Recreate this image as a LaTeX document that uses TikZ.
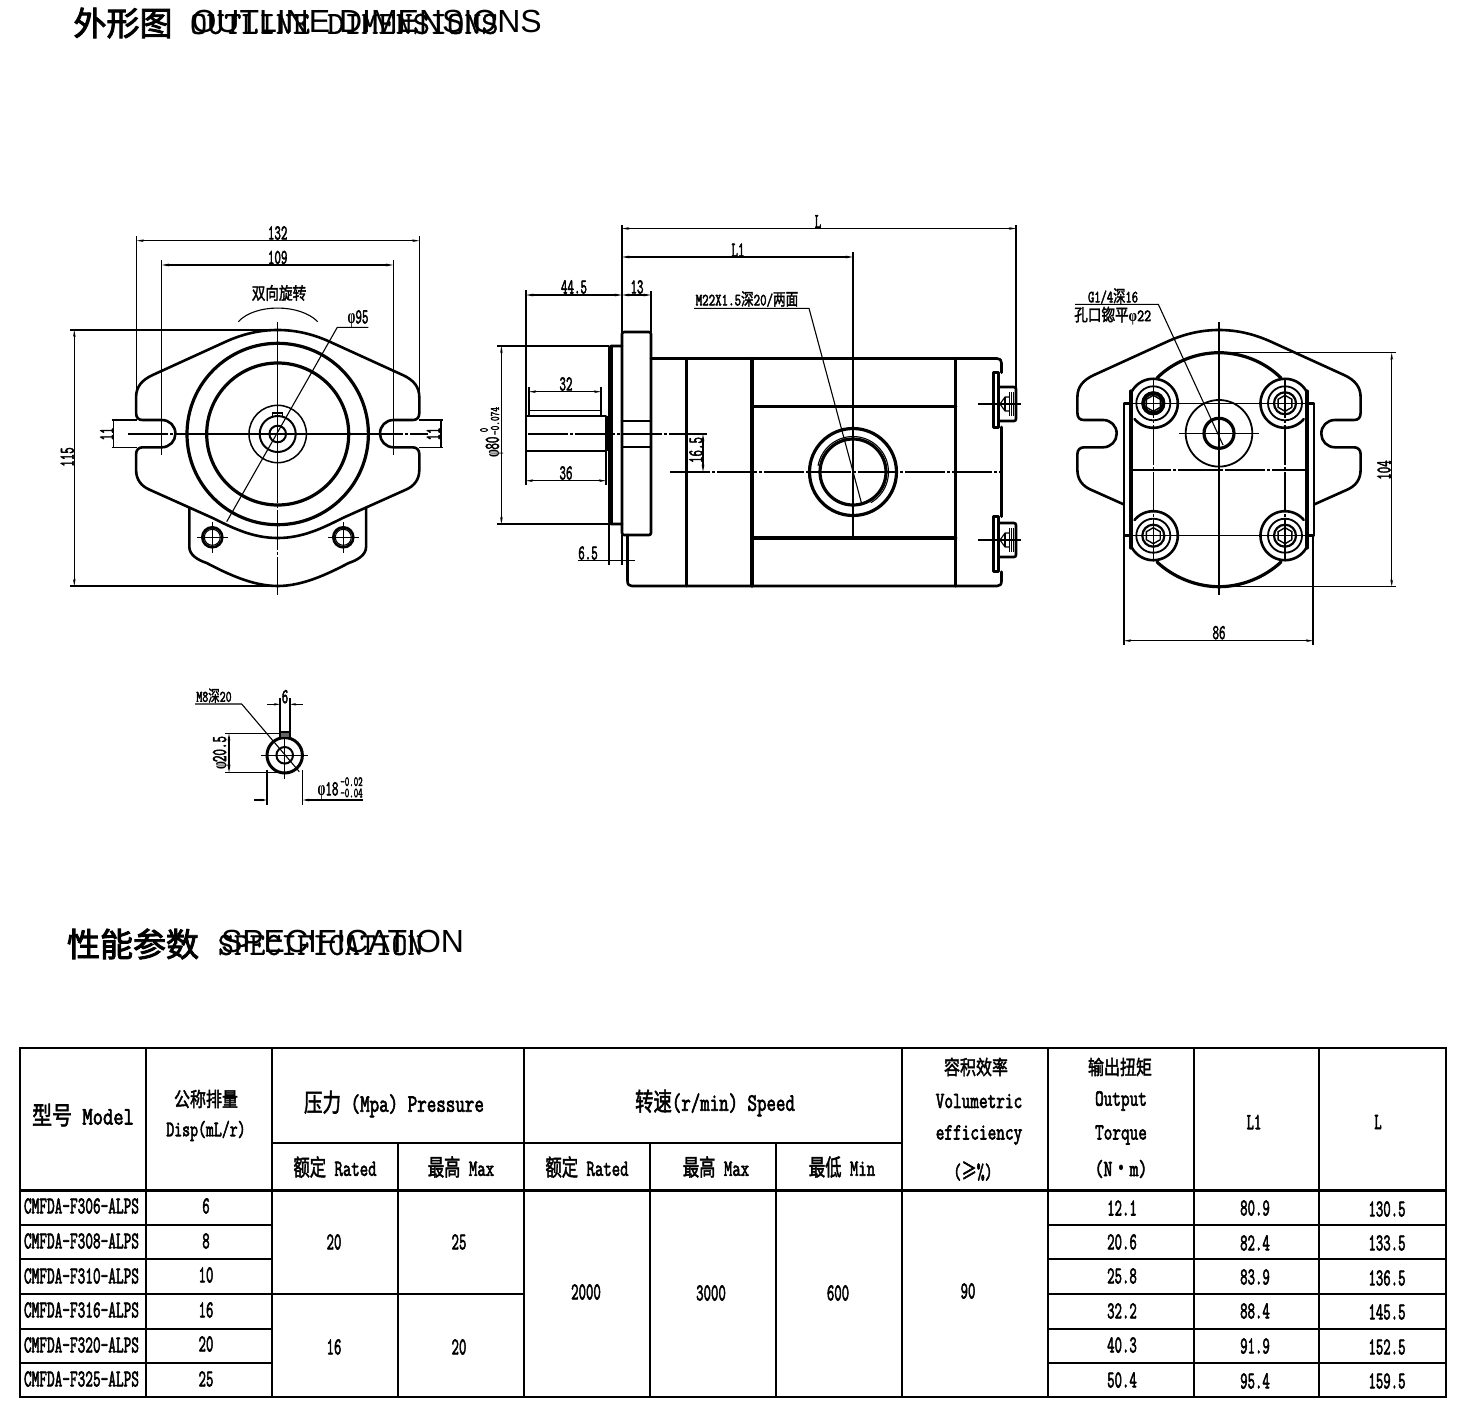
\documentclass[tikz,border=0pt]{standalone}
\usepackage{fontspec}
\usetikzlibrary{arrows.meta}
\setmainfont{Liberation Serif}
\newfontfamily\cjf[FakeBold=2.2]{Noto Sans CJK SC}
\newfontfamily\cjt[FakeBold=2.8]{Noto Sans CJK SC}
\newfontfamily\dwf[FakeBold=3]{Latin Modern Mono}
\newfontfamily\ttl[FakeBold=1]{Latin Modern Mono}
\newfontfamily\sansf{Liberation Sans}
\newfontfamily\greekf{Liberation Serif}
\newcommand\cj[1]{{\cjf #1}}
\newcommand\phisym{{\greekf\bfseries φ}}
\tikzset{
  txt/.style={inner sep=0pt,outer sep=0pt,font=\dwf,text=black},
  thick line/.style={line width=3.2pt,line join=round,line cap=round},
  outline/.style={line width=2.6pt,line join=round,line cap=round},
  thin line/.style={line width=1.1pt},
  center line/.style={line width=1.1pt,dash pattern=on 40pt off 2pt on 3pt off 2pt},
  dim/.style={line width=1.1pt,{Stealth[length=7pt,width=2.6pt]}-{Stealth[length=7pt,width=2.6pt]}},
  gridline/.style={line width=2.4pt,line cap=rect},
}
\newcommand\T[6][0]{\node[txt,rotate=#1] (#2) at (#3) {\fontsize{#4}{#4}\selectfont\scalebox{#5}[1]{#6}};}
% polar arc: x, y, r, from, to (angles measured on screen clockwise, y downward)
\newcommand\arcp[5]{plot[domain=#4:#5,samples=48,smooth] ({#1+#3*cos(\x)},{#2+#3*sin(\x)})}
\newcommand\hexp[3]{plot[domain=30:390,samples=7] ({#1+#3*cos(\x)},{#2+#3*sin(\x)})}
% flange half: from apex round the slot to the lower slant
\newcommand\flangehalf{(0,330) .. controls (18,330) and (35,334) .. (52,341.7) -- (125,375)
 .. controls (136,380) and (141.6,387) .. (141.6,397) -- (141.6,413)
 .. controls (141.6,418) and (139,420) .. (135,420) -- (116,420)
 .. controls (108,420) and (102.3,426) .. (102.3,433.7)
 .. controls (102.3,441) and (108,447.3) .. (116,447.3) -- (135,447.3)
 .. controls (139,447.3) and (141.6,450) .. (141.6,454) -- (141.6,470)
 .. controls (141.6,480) and (136,486) .. (129,489.3)}
\begin{document}
\begin{tikzpicture}[x=1pt,y=-1pt]
\useasboundingbox (0,0) rectangle (1460,1416);
\fill[white] (0,0) rectangle (1460,1416);

% ---------- titles ----------
\node[txt] (t1) at (123,23) {\fontsize{33}{33}\selectfont\cjt 外形图};
\node[txt,anchor=west] (t2) at (190,24) {\fontsize{32}{32}\selectfont\ttl\scalebox{1.04}[1]{OUTLINE DIMENSIONS}};
\node[txt,anchor=west] (t3) at (191.5,21) {\fontsize{32}{32}\selectfont\sansf OUTLINE DIMENSIONS};
\node[txt] (t4) at (133,944) {\fontsize{33}{33}\selectfont\cjt 性能参数};
\node[txt,anchor=west] (t5) at (218,945) {\fontsize{32}{32}\selectfont\ttl\scalebox{.958}[1]{SPECIFICATION}};
\node[txt,anchor=west] (t6) at (221,941) {\fontsize{32}{32}\selectfont\sansf SPECIFICATION};

% ---------- front view ----------
\begin{scope}[shift={(277.7,0)}]
 \draw[outline] \flangehalf -- (65,518) .. controls (45,528) and (25,538) .. (0,538);
 \begin{scope}[xscale=-1]
  \draw[outline] \flangehalf -- (65,518) .. controls (45,528) and (25,538) .. (0,538);
 \end{scope}
 \draw[outline] (88.4,508) -- (88.4,546.7) .. controls (88.4,555) and (80,560) .. (71,563) .. controls (50,574) and (25,586) .. (0,586)
   .. controls (-25,586) and (-50,574) .. (-71,563) .. controls (-80,560) and (-88.4,555) .. (-88.4,546.7) -- (-88.4,508);
\end{scope}
\draw[thick line] (277.7,434) circle[radius=90.7];
\draw[thick line] (277.7,434) circle[radius=71];
\draw[line width=1.5pt] (277.7,434) circle[radius=28.7];
\draw[line width=2pt] (277.7,434) circle[radius=18];
\draw[line width=2pt] (277.7,434) circle[radius=8.3];
\draw[line width=1.3pt] (272.7,416.5) rectangle (282.7,413);
\draw[outline] (212.3,537.3) circle[radius=10];
\draw[thin line] (212.3,537.3) circle[radius=8];
\draw[outline] (343.3,537.3) circle[radius=10];
\draw[thin line] (343.3,537.3) circle[radius=8];
\draw[thin line] (197,537.3) -- (228,537.3) (212.3,522) -- (212.3,553);
\draw[thin line] (328,537.3) -- (359,537.3) (343.3,522) -- (343.3,553);
\draw[center line] (277.7,321.7) -- (277.7,595);
\draw[center line] (128,434) -- (428,434);
\draw[line width=1.4pt] (188,434) -- (368,434) (277.7,365) -- (277.7,500);
% leader phi 95
\draw[thin line] (226.7,521.7) -- (337.3,327.3) -- (368.3,327.3);
\T{f95}{358,319}{21}{.6}{\phisym 95}
% arc
\draw[thin line] (238.3,321.7) .. controls (255,303.5) and (300,303.5) .. (317.7,321.7);
\T{rot}{279,293}{17}{.8}{\cj{双向旋转}}
% dims
\draw[thin line] (136.7,236) -- (136.7,397) (419.3,236) -- (419.3,397);
\draw[dim] (136.7,240.7) -- (419.3,240.7);
\T{d132}{277.7,233}{21}{.6}{132}
\draw[thin line] (161.7,260) -- (161.7,455) (393.3,260) -- (393.3,455);
\draw[dim] (161.7,265) -- (393.3,265);
\T{d109}{277.7,257.5}{21}{.6}{109}
\draw[thin line] (70,330) -- (277.7,330) (70,586) -- (277.7,586);
\draw[dim] (74.3,330) -- (74.3,586);
\T[90]{d115}{67.3,457}{21}{.6}{115}
\draw[thin line] (111.7,420) -- (136.7,420) (111.7,447.3) -- (136.7,447.3);
\draw[thin line] (113.3,420) -- (113.3,447.3);
\T[90]{d11a}{106.7,434}{21}{.6}{11}
\draw[thin line] (419.3,420) -- (443.3,420) (419.3,447.3) -- (443.3,447.3);
\draw[thin line] (441,420) -- (441,447.3);
\T[90]{d11b}{433.3,434}{21}{.6}{11}

% ---------- side view ----------
\draw[outline,rounded corners=2pt] (622,332) rectangle (651,535);
\draw[outline,rounded corners=1.5pt] (622,346) -- (609.5,346) -- (609.5,524) -- (622,524);
\draw[outline] (612,346) -- (612,524);
\draw[outline] (622,421) -- (651,421) (622,447) -- (651,447);
\draw[outline] (606,416) -- (526,416) -- (526,451) -- (606,451) -- cycle;
\draw[line width=1.8pt] (529,416) -- (529,410.5) -- (601,410.5) -- (601,416);
\draw[line width=3pt] (607,416) -- (607,451);
% body
\draw[outline] (651,358.5) -- (997,358.5) .. controls (1000,358.5) and (1001.5,360) .. (1001.5,363) -- (1001.5,372.7)
  (1001.5,427) -- (1001.5,516.7) (1001.5,571.7) -- (1001.5,581) .. controls (1001.5,584.5) and (1000,586) .. (997,586)
  -- (632,586) .. controls (629,586) and (627.5,584.5) .. (627.5,581) -- (627.5,535);
\draw[outline] (686.4,358.5) -- (686.4,586);
\draw[thick line] (752,358.5) -- (752,586);
\draw[thick line] (955.7,358.5) -- (955.7,586);
\draw[thick line] (752,406.7) -- (955.7,406.7) (752,538) -- (955.7,538);
% plugs
\foreach \cy/\pa/\pb in {404/31.3/23.3,540/23.3/31.7}{
 \draw[outline,fill=white] (993.6,\cy-\pa) -- (998.6,\cy-\pa) -- (998.6,\cy+\pb) -- (993.6,\cy+\pb) -- cycle;
 \draw[outline,rounded corners=2pt] (998.6,\cy-17) -- (1016,\cy-17) -- (1016,\cy+17) -- (998.6,\cy+17);
 \draw[thin line] (978,\cy) -- (1021,\cy);
 \draw[thin line] (1000,\cy) -- (1005,\cy-7) -- (1009,\cy-7) (1000,\cy) -- (1005,\cy+7) -- (1009,\cy+7);
 \draw[thin line] (1005,\cy-7) -- (1005,\cy+7);
 \draw[line width=.7pt] (1009,\cy-12) -- (1009,\cy+12) (1011,\cy-12) -- (1011,\cy+12) (1013,\cy-12) -- (1013,\cy+12);
}
% port
\fill[white] (853,472) circle[radius=43.5];
\draw[thick line] (853,472) circle[radius=43.5];
\draw[thick line] (853,472) circle[radius=33];
\draw[thin line] \arcp{853}{472}{35.5}{190}{420};
\draw[center line] (670,472) -- (1000,472);
\draw[center line] (528,434) -- (707,434);
\draw[thin line] (853,252) -- (853,540);
% leader M22
\draw[thin line] (694,308.3) -- (809,308.3) -- (862,505);
\T{m22}{747,299}{17}{.74}{M22X1.5\cj{深}20/\cj{两面}}
% dims
\draw[thin line] (622,225) -- (622,340) (1016,225) -- (1016,390);
\draw[dim] (622,228.5) -- (1016,228.5);
\T{dL}{818,221.5}{21}{.6}{L}
\draw[dim] (622,257) -- (853,257);
\T{dL1}{738,250}{21}{.6}{L1}
\draw[thin line] (526,290) -- (526,485) (651,291) -- (651,332);
\draw[dim] (526,295) -- (622,295);
\draw[dim] (622,295) -- (651,295);
\T{d445}{574,287}{21}{.6}{44.5}
\T{d13}{637,287}{21}{.6}{13}
\draw[thin line] (529,387) -- (529,410) (601,387) -- (601,410);
\draw[dim] (529,391.7) -- (601,391.7);
\T{d32}{566,384}{21}{.6}{32}
\draw[thin line] (606,451) -- (606,485);
\draw[dim] (526,480.7) -- (606,480.7);
\T{d36}{566,473}{21}{.6}{36}
\draw[thin line] (497,346) -- (609,346) (497,524) -- (609,524);
\draw[dim] (501.4,346) -- (501.4,524);
\T[90]{phi80}{494.5,447}{21}{.6}{\phisym 80}
\T[90]{tol0}{484,430}{12}{.7}{0}
\T[90]{tol1}{495,421}{13}{.7}{-0.074}
\draw[dim] (703,434) -- (703,472);
\T[90]{d165}{696,450}{21}{.6}{16.5}
\draw[thin line] (609,524) -- (609,565) (622,535) -- (622,565);
\draw[thin line] (578,560.7) -- (635,560.7);
\T{d65}{588,553}{21}{.6}{6.5}

% ---------- right view ----------
\begin{scope}[shift={(1219,0)}]
 \draw[outline] \flangehalf -- (95,504.5);
 \begin{scope}[xscale=-1]
  \draw[outline] \flangehalf -- (95,504.5);
 \end{scope}
\end{scope}
\draw[outline,fill=white] (1124,403.3) rectangle (1130,535.7);
\draw[outline,fill=white] (1308,403.3) rectangle (1314,535.7);
% body top and bottom arcs
\draw[thick line] (1157,378) .. controls (1173,362) and (1196,352.7) .. (1219,352.7) .. controls (1242,352.7) and (1265,362) .. (1281,378);
\draw[thick line] (1157,562) .. controls (1173,577) and (1196,586.7) .. (1219,586.7) .. controls (1242,586.7) and (1265,577) .. (1281,562);
\draw[thick line] (1131,391) -- (1131,548) (1307,391) -- (1307,548);
% bolts
\foreach \bx/\by/\a/\b/\c/\d in {1153.3/403.3/-90/140/-90/-150, 1285/403.3/270/40/270/330, 1153.3/535.7/90/-140/90/150, 1285/535.7/90/320/90/30}{
 \draw[outline] \arcp{\bx}{\by}{24.5}{\a}{\b};
 \draw[outline] \arcp{\bx}{\by}{24.5}{\c}{\d};
 \draw[line width=1.8pt] (\bx,\by) circle[radius=17];
 \draw[line width=2.2pt] (\bx,\by) circle[radius=11];
 \draw[line width=1.4pt] \hexp{\bx}{\by}{8};
}
\draw[line width=3.6pt] (1153.3,403.3) circle[radius=10];
\draw[line width=1.8pt] (1219,433.3) circle[radius=33.3];
\draw[thick line] (1219,433.3) circle[radius=15];
\draw[thin line] (1179,433.3) -- (1259,433.3);
\draw[line width=1.2pt] (1219,321.7) -- (1219,595);
\draw[center line] (1131,470) -- (1307,470);
\draw[thin line] (1124,403.3) -- (1314,403.3);
\draw[thin line] (1124,535.7) -- (1314,535.7);
\draw[center line] (1153.3,378) -- (1153.3,560);
\draw[center line] (1285,378) -- (1285,560);
% leader G1/4
\draw[thin line] (1075,304.3) -- (1158.3,304.3) -- (1223,445);
\T{g14}{1113,296}{17}{.72}{G1/4\cj{深}16}
\T{kou}{1112.7,315.7}{17}{.8}{\cj{孔口锪平}\phisym 22}
% dims
\draw[thin line] (1219,352.7) -- (1396,352.7) (1219,586.7) -- (1396,586.7);
\draw[dim] (1391.7,352.7) -- (1391.7,586.7);
\T[90]{d104}{1384,470}{21}{.6}{104}
\draw[thin line] (1124,536) -- (1124,645) (1313,536) -- (1313,645);
\draw[dim] (1124,640.7) -- (1313,640.7);
\T{d86}{1219,632.7}{21}{.6}{86}

% ---------- small shaft view ----------
\draw[line width=3pt] (284.7,755.3) circle[radius=17.7];
\draw[line width=2pt] (284.7,755.3) circle[radius=8.3];
\draw[line width=1.8pt,fill=black!60] (280,738) rectangle (290,732);
\draw[thin line] (261,755.3) -- (308,755.3) (284.7,738) -- (284.7,779);
\draw[thin line] (195,704) -- (241.7,704) -- (299.3,771.7);
\T{m8}{214,695.7}{16}{.72}{M8\cj{深}20}
\draw[thin line] (280,698) -- (280,732) (290,698) -- (290,732);
\draw[{Stealth[length=6pt,width=2.4pt]}-,thin line] (280,704.3) -- (267,704.3);
\draw[{Stealth[length=6pt,width=2.4pt]}-,thin line] (290,704.3) -- (302.7,704.3);
\T{d6}{285,696.7}{21}{.6}{6}
\draw[thin line] (225,733.3) -- (280,733.3) (225,772.7) -- (280,772.7);
\draw[dim] (229,733.3) -- (229,772.7);
\T[90]{d205}{221.7,753}{21}{.6}{\phisym 20.5}
\draw[thin line] (267,770) -- (267,805) (302.7,770) -- (302.7,805);
\draw[thin line,{Stealth[length=6pt,width=2.4pt]}-] (267,800) -- (254,800);
\draw[thin line,{Stealth[length=6pt,width=2.4pt]}-] (302.7,800) -- (363,800);
\T{d18}{328,791}{21}{.6}{\phisym 18}
\T{t02}{351.5,781.7}{14}{.62}{-0.02}
\T{t04}{351.5,793}{14}{.62}{-0.04}

% ---------- table ----------
\draw[gridline] (20,1048) rectangle (1446,1397);
\draw[gridline] (146,1048) -- (146,1397) (272,1048) -- (272,1397) (524,1048) -- (524,1397)
  (902,1048) -- (902,1397) (1048,1048) -- (1048,1397) (1194,1048) -- (1194,1397) (1319,1048) -- (1319,1397)
  (398,1143) -- (398,1397) (650,1143) -- (650,1397) (776,1143) -- (776,1397);
\draw[gridline] (272,1143) -- (902,1143) (20,1190.5) -- (1446,1190.5);
\foreach \yy in {1225,1259,1294,1329,1363}{
 \draw[gridline] (20,\yy) -- (272,\yy) (1048,\yy) -- (1446,\yy);
}
\draw[gridline] (272,1294) -- (524,1294);
% header texts
\T{h1}{83,1115}{25}{.8}{\cj{型号} Model}
\T{h2}{206,1099}{20}{.8}{\cj{公称排量}}
\T{h3}{206,1131}{22}{.7}{Disp(mL/r)}
\T{h4}{394,1104}{25}{.74}{\cj{压力} (Mpa) Pressure}
\T{h5}{715,1103}{25}{.735}{\cj{转速}(r/min) Speed}
\T{h6}{976,1067}{20}{.8}{\cj{容积效率}}
\T{h7}{979,1101}{23}{.73}{Volumetric}
\T{h8}{979,1135}{23}{.73}{efficiency}
\T{h9}{973,1171}{22}{.7}{(\cj{≥}\%)}
\T{h10}{1120,1067}{20}{.8}{\cj{输出扭矩}}
\T{h11}{1121,1101}{23}{.73}{Output}
\T{h12}{1121,1135}{23}{.73}{Torque}
\T{h13}{1121,1169}{23}{.75}{(N\cj{·}m)}
\T{h14}{1254,1122}{23}{.62}{L1}
\T{h15}{1378,1122}{23}{.62}{L}
\T{r1}{335,1167}{23}{.71}{\cj{额定} Rated}
\T{r2}{461,1167}{23}{.71}{\cj{最高} Max}
\T{r3}{587,1167}{23}{.71}{\cj{额定} Rated}
\T{r4}{716,1167}{23}{.71}{\cj{最高} Max}
\T{r5}{842,1167}{23}{.71}{\cj{最低} Min}
% rows
\foreach \m/\d/\yy/\ya in {306/6/1206/1206,308/8/1241/1241,310/10/1276/1275,316/16/1310/1310,320/20/1345/1344,325/25/1379/1379}{
 \T{mod\m}{81.5,\yy}{24}{.62}{CMFDA-F\m-ALPS}
 \T{dsp\m}{206,\ya}{24}{.6}{\d}
}
\T{c1}{334,1242}{24}{.6}{20}
\T{c2}{459,1242}{24}{.6}{25}
\T{c3}{334,1347}{24}{.6}{16}
\T{c4}{459,1347}{24}{.6}{20}
\T{c5}{586,1292}{24}{.6}{2000}
\T{c6}{711,1293}{24}{.6}{3000}
\T{c7}{838,1293}{24}{.6}{600}
\T{c8}{968,1291}{24}{.6}{90}
\foreach \a/\b/\c/\ya/\yb/\yc [count=\i] in {12.1/80.9/130.5/1208/1208/1209,20.6/82.4/133.5/1242/1243/1243,25.8/83.9/136.5/1276/1277/1278,32.2/88.4/145.5/1311/1311/1312,40.3/91.9/152.5/1345/1346/1347,50.4/95.4/159.5/1380/1381/1381}{
 \T{tq\i}{1122,\ya}{24}{.6}{\a}
 \T{lo\i}{1255,\yb}{24}{.6}{\b}
 \T{lt\i}{1387,\yc}{24}{.6}{\c}
}
\end{tikzpicture}
\end{document}
